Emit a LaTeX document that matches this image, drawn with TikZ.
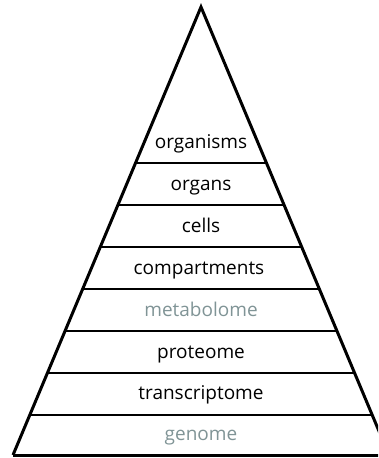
\documentclass[tikz,border=0pt]{standalone}
\usepackage{fontspec}
\setmainfont{Open Sans}
\usetikzlibrary{calc}
\definecolor{lightlabel}{RGB}{128,148,150}
\tikzset{
  lvl/.style={font=\fontsize{19}{22}\selectfont, text=black, inner sep=0pt, anchor=base},
  lvlgray/.style={lvl, text=lightlabel},
  edge/.style={line width=3pt, line join=miter},
  sep/.style={line width=1.4pt},
}
\begin{document}
\begin{tikzpicture}[x=1pt,y=-1pt]
\useasboundingbox (0,0) rectangle (378,458);
\clip (0,0) rectangle (378,458);
\coordinate (apex) at (201,7);
\coordinate (bl) at (13,455);
\coordinate (br) at (389,455);
% separators
\foreach \yy/\nm in {163/a,205/b,247/c,289/d,331/e,373/f,415/g}{
  \pgfmathsetmacro{\t}{(\yy-7)/448}
  \coordinate (L\nm) at ($(apex)!\t!(bl)$);
  \coordinate (R\nm) at ($(apex)!\t!(br)$);
  \draw[sep] (L\nm) -- (R\nm);
}
\draw[edge] (bl) -- (apex) -- (br);
\draw[edge] (bl) -- (br);
\node[lvl] (organisms) at (201,148) {organisms};
\node[lvl] (organs) at (201,190) {organs};
\node[lvl] (cells) at (201,232) {cells};
\node[lvl] (compartments) at (199,274) {compartments};
\node[lvlgray] (metabolome) at (201,316) {metabolome};
\node[lvl] (proteome) at (201,358) {proteome};
\node[lvl] (transcriptome) at (201,399) {transcriptome};
\node[lvlgray] (genome) at (201,440) {genome};
\end{tikzpicture}
\end{document}
